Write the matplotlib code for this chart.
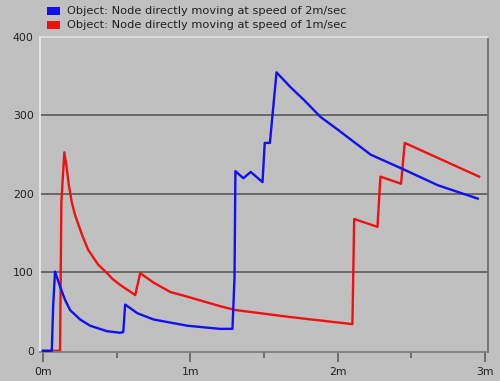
import matplotlib
matplotlib.use("Agg")
import matplotlib.pyplot as plt
from matplotlib.patches import Rectangle
from matplotlib.ticker import MultipleLocator, FixedLocator

# time in minutes
t_2ms = [0.0, 0.06, 0.07, 0.082, 0.116, 0.15, 0.184, 0.252, 0.32, 0.435,
         0.524, 0.545, 0.558, 0.64, 0.75, 0.864, 0.98, 1.09, 1.2, 1.286,
         1.30, 1.303, 1.306, 1.36, 1.41, 1.49, 1.505, 1.54, 1.585, 1.68,
         1.77, 1.884, 2.0, 2.224, 2.45, 2.68, 2.95]
v_2ms = [0, 0, 60, 101, 82, 65, 52, 40, 32, 25,
         23, 24, 59, 48, 40, 36, 32, 30, 28, 28,
         94, 163, 229, 220, 228, 215, 265, 265, 355, 336,
         320, 298, 282, 250, 231, 211, 194]

t_1ms = [0.0, 0.116, 0.125, 0.145, 0.16, 0.175, 0.195, 0.218, 0.265, 0.306,
         0.374, 0.43, 0.47, 0.524, 0.595, 0.626, 0.66, 0.75, 0.864, 0.98,
         1.09, 1.2, 1.306, 1.68, 2.10, 2.112, 2.27, 2.29, 2.43, 2.455,
         2.96]
v_1ms = [0, 0, 190, 253, 235, 212, 190, 173, 148, 129,
         110, 100, 92, 84, 75, 71, 99, 87, 75, 69,
         63, 57, 52, 43, 34, 168, 158, 222, 213, 265,
         222]

labels = ["Object: Node directly moving at speed of 2m/sec",
          "Object: Node directly moving at speed of 1m/sec"]
colors = ["#1010f0", "#f01010"]

x_ticks = [0, 1, 2, 3]
x_ticklabels = ["0m", "1m", "2m", "3m"]
y_ticks = [0, 100, 200, 300, 400]

bg = "#c0c0c0"
plt.rcParams["font.family"] = ["DejaVu Sans"]

fig = plt.figure(figsize=(5, 3.81), dpi=100, facecolor=bg)
ax = fig.add_axes([0.08, 1 - 352 / 381, 0.896, (352 - 37) / 381])
ax.set_facecolor(bg)

for y in y_ticks[1:-1]:
    ax.axhline(y, color="#505050", lw=1.1, zorder=1)

ax.plot(t_2ms, v_2ms, color=colors[0], lw=1.7, zorder=3, clip_on=False)
ax.plot(t_1ms, v_1ms, color=colors[1], lw=1.7, zorder=2, clip_on=False)

ax.set_xlim(-0.02, 3.02)
ax.set_ylim(-1.5, 400)

ax.xaxis.set_major_locator(FixedLocator(x_ticks))
ax.set_xticklabels(x_ticklabels)
ax.xaxis.set_minor_locator(MultipleLocator(0.5))
ax.tick_params(axis="x", which="major", length=7.5, width=1.2, color="#606060",
               direction="out", labelsize=7.8, pad=3.5, labelcolor="#202020")
ax.tick_params(axis="x", which="minor", length=4.3, width=1.2, color="#606060",
               direction="out")

ax.set_yticks(y_ticks)
ax.set_yticklabels([str(y) for y in y_ticks])
ax.tick_params(axis="y", length=0, labelsize=7.8, pad=4.5, labelcolor="#202020")

ax.spines["left"].set_color("#e8e8e8")
ax.spines["top"].set_color("#e0e0e0")
ax.spines["right"].set_color("#707070")
ax.spines["bottom"].set_color("#808080")
for s in ax.spines.values():
    s.set_linewidth(1.3)

# legend above the plot
for i in range(2):
    y0 = 1 - (15 + 14 * i) / 381
    fig.patches.append(Rectangle((47 / 500, y0), 13 / 500, 8 / 381,
                                 transform=fig.transFigure, facecolor=colors[i],
                                 edgecolor="none"))
    fig.text(67 / 500, y0 + 4 / 381, labels[i], fontsize=8.2, color="#202020",
             va="center", ha="left")

fig.savefig("out.png", dpi=100, facecolor=bg)
